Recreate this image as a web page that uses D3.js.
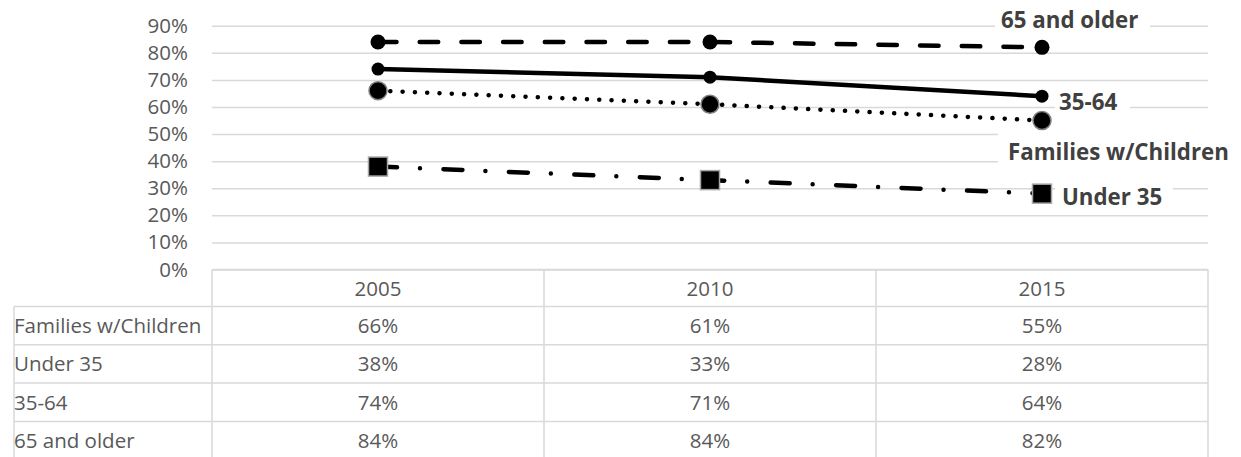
<!DOCTYPE html>
<html>
<head>
<meta charset="utf-8">
<script src="https://cdn.jsdelivr.net/npm/d3@7"></script>
<style>
  body { margin: 0; background: #fff; }
  svg { display: block; font-family: "Open Sans", sans-serif; }
</style>
</head>
<body>
<div id="chart"></div>
<script>
// data
var years = ["2005", "2010", "2015"];
var seriesNames = ["Families w/Children", "Under 35", "35-64", "65 and older"];
var familiesValues = [66, 61, 55];
var under35Values = [38, 33, 28];
var midValues = [74, 71, 64];
var olderValues = [84, 84, 82];
var yTicks = [0, 10, 20, 30, 40, 50, 60, 70, 80, 90];

var seriesValues = [familiesValues, under35Values, midValues, olderValues];

var width = 1241, height = 457;
var plotLeft = 212, plotRight = 1208;
var grid = "#d9d9d9", textGray = "#595959", labelGray = "#404040";
var fontSize = 20.5, boldSize = 22.3;

var svg = d3.select("#chart").append("svg")
    .attr("width", width)
    .attr("height", height);

var x = d3.scaleBand().domain(years).range([plotLeft, plotRight]);
var y = d3.scaleLinear().domain([0, 90]).range([269.5, 25.7]);
var cx = function(yr) { return x(yr) + x.bandwidth() / 2; };

// gridlines + y tick labels through an axis
var yAxis = svg.append("g")
    .attr("transform", "translate(" + plotLeft + ",0)")
    .call(d3.axisLeft(y).tickValues(yTicks).tickSize(-(plotRight - plotLeft))
        .tickFormat(function(d) { return d + "%"; }).tickPadding(24));
yAxis.select(".domain").remove();
yAxis.selectAll(".tick line").attr("stroke", grid).attr("stroke-width", 1.5);
yAxis.selectAll(".tick text")
    .attr("fill", textGray)
    .style("font-size", fontSize + "px")
    .style("font-family", "'Open Sans', sans-serif");

// style per series (same order as seriesNames)
var styles = [
  {dash: "0.1,12.2", marker: "circle", r: 9, markStroke: "#7f7f7f",
   label: {x: 1008, y: 160, box: [998, 129, 1240, 167]}},
  {dash: "19,23,0,23.5", marker: "square", r: 9.5, markStroke: "#a6a6a6",
   label: {x: 1062, y: 205, box: [1055, 186, 1173, 211]}},
  {dash: null, marker: "circle", r: 6.5, markStroke: "none",
   label: {x: 1059, y: 110, box: [1055, 93, 1130, 116]}},
  {dash: "18.5,23.2", marker: "circle", r: 7.5, markStroke: "none",
   label: {x: 1001, y: 28, box: [995, 11, 1150, 33]}}
];

// white boxes behind the data labels
svg.append("g").selectAll("rect")
    .data(styles)
    .enter().append("rect")
    .attr("x", function(d) { return d.label.box[0]; })
    .attr("y", function(d) { return d.label.box[1]; })
    .attr("width", function(d) { return d.label.box[2] - d.label.box[0]; })
    .attr("height", function(d) { return d.label.box[3] - d.label.box[1]; })
    .attr("fill", "#fff");

var line = d3.line()
    .x(function(d, i) { return cx(years[i]); })
    .y(function(d) { return y(d); });

var series = svg.append("g").selectAll("g")
    .data(seriesValues)
    .enter().append("g");

series.append("path")
    .attr("d", function(d) { return line(d); })
    .attr("fill", "none")
    .attr("stroke", "#000")
    .attr("stroke-width", 4.5)
    .attr("stroke-linecap", "round")
    .attr("stroke-dasharray", function(d, i) { return styles[i].dash; });

series.each(function(vals, si) {
  var st = styles[si];
  var g = d3.select(this);
  vals.forEach(function(v, i) {
    if (st.marker === "circle") {
      g.append("circle")
          .attr("cx", cx(years[i]))
          .attr("cy", y(v))
          .attr("r", st.r)
          .attr("fill", "#000")
          .attr("stroke", st.markStroke)
          .attr("stroke-width", 1.5);
    } else {
      g.append("rect")
          .attr("x", cx(years[i]) - st.r)
          .attr("y", y(v) - st.r)
          .attr("width", st.r * 2)
          .attr("height", st.r * 2)
          .attr("fill", "#000")
          .attr("stroke", st.markStroke)
          .attr("stroke-width", 1.5);
    }
  });
});

// data labels
svg.append("g").selectAll("text")
    .data(seriesNames)
    .enter().append("text")
    .attr("x", function(d, i) { return styles[i].label.x; })
    .attr("y", function(d, i) { return styles[i].label.y; })
    .attr("fill", labelGray)
    .style("font-size", boldSize + "px")
    .style("font-weight", "bold")
    .text(function(d) { return d; });

// data table under the chart
var tableTop = 269.5, headH = 37, rowH = 38.3, tableLeft = 14;
var table = svg.append("g");
var rowTop = function(i) { return tableTop + headH + i * rowH; };

// horizontal lines
table.append("line")
    .attr("x1", plotLeft).attr("x2", plotRight)
    .attr("y1", tableTop).attr("y2", tableTop);
table.selectAll(".hrow")
    .data(seriesNames)
    .enter().append("line")
    .attr("class", "hrow")
    .attr("x1", tableLeft).attr("x2", plotRight)
    .attr("y1", function(d, i) { return rowTop(i); })
    .attr("y2", function(d, i) { return rowTop(i); });
table.append("line")
    .attr("x1", tableLeft).attr("x2", plotRight)
    .attr("y1", rowTop(4)).attr("y2", rowTop(4));
// vertical lines
table.append("line")
    .attr("x1", tableLeft).attr("x2", tableLeft)
    .attr("y1", rowTop(0)).attr("y2", height);
table.selectAll(".vcol")
    .data(years.concat(["end"]))
    .enter().append("line")
    .attr("class", "vcol")
    .attr("x1", function(d, i) { return plotLeft + i * x.bandwidth(); })
    .attr("x2", function(d, i) { return plotLeft + i * x.bandwidth(); })
    .attr("y1", tableTop).attr("y2", height);
table.selectAll("line").attr("stroke", grid).attr("stroke-width", 1.5);

// header
table.selectAll(".yr")
    .data(years)
    .enter().append("text")
    .attr("x", function(d) { return cx(d); })
    .attr("y", tableTop + headH / 2 + 7.5)
    .attr("text-anchor", "middle")
    .text(function(d) { return d; });

// row names
table.selectAll(".rname")
    .data(seriesNames)
    .enter().append("text")
    .attr("x", tableLeft)
    .attr("y", function(d, i) { return rowTop(i) + rowH / 2 + 7.5; })
    .text(function(d) { return d; });

// cells
seriesValues.forEach(function(vals, si) {
  table.selectAll(".cell" + si)
      .data(vals)
      .enter().append("text")
      .attr("x", function(d, i) { return cx(years[i]); })
      .attr("y", rowTop(si) + rowH / 2 + 7.5)
      .attr("text-anchor", "middle")
      .text(function(d) { return d + "%"; });
});
table.selectAll("text")
    .attr("fill", textGray)
    .style("font-size", fontSize + "px");
</script>
</body>
</html>
